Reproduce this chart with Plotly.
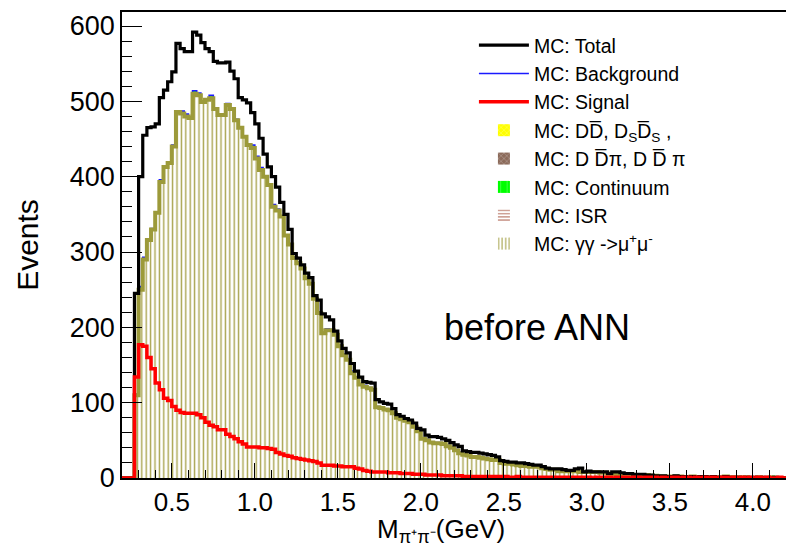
import plotly.graph_objects as go

# Dipion invariant-mass histogram binning (GeV)
x_min = 0.2
bin_width = 0.025
n_bins = 160

# MC: Total (sum of all MC samples)
total_mc = [
    0, 0, 0, 245, 400, 455, 465, 466, 470, 505,
    515, 526, 539, 577, 570, 566, 566, 592, 588, 578,
    570, 566, 553, 551, 551, 552, 540, 530, 505, 502,
    498, 485, 470, 451, 430, 413, 400, 386, 366, 350,
    330, 298, 292, 283, 272, 266, 242, 236, 218, 214,
    210, 195, 182, 172, 166, 152, 142, 134, 128, 127,
    126, 104, 101, 99, 98, 92, 84, 82, 79, 77,
    73, 66, 64, 57, 55, 55, 54, 52, 50, 47,
    44, 42, 36, 35, 34, 34, 33, 32, 31, 30,
    28, 23, 22, 21, 21, 20, 20, 19, 18, 17,
    17, 15, 13, 12, 12, 12, 11, 10, 10, 12,
    13, 8, 9, 8, 8, 8, 8, 6, 8, 8,
    7, 6, 6, 5, 5, 5, 4, 4, 3, 3,
    3, 2, 2, 3, 2, 2, 1, 2, 1, 2,
    2, 1, 2, 1, 1, 2, 1, 1, 1, 0,
    1, 0, 1, 0, 1, 0, 0, 1, 0, 0,
]

# MC: Signal
signal_mc = [
    0, 0, 0, 134, 177, 175, 160, 145, 126, 117,
    106, 103, 95, 90, 87, 86, 86, 86, 84, 80,
    74, 70, 68, 64, 64, 58, 55, 52, 48, 45,
    41, 41, 41, 40, 40, 39, 38, 34, 32, 30,
    29, 27, 26, 25, 24, 23, 22, 20, 17, 17,
    17, 16, 16, 15, 15, 15, 13, 12, 10, 9,
    8, 8, 8, 8, 7, 7, 7, 6, 6, 6,
    5, 5, 5, 4, 4, 4, 4, 3, 3, 3,
    3, 3, 2, 2, 2, 2, 2, 2, 2, 2,
    2, 2, 2, 1, 1, 2, 1, 1, 1, 1,
    1, 1, 1, 1, 1, 1, 1, 1, 1, 1,
    1, 1, 1, 0, 1, 1, 1, 1, 0, 1,
    1, 1, 0, 1, 1, 0, 1, 1, 1, 0,
    1, 0, 1, 1, 0, 1, 1, 0, 1, 0,
    1, 0, 1, 0, 1, 1, 0, 1, 0, 1,
    0, 1, 0, 1, 0, 1, 0, 0, 1, 0,
]

# MC: gamma gamma -> mu+ mu-
gg_mumu = [
    0, 0, 0, 110, 250, 290, 316, 330, 352, 393,
    413, 418, 440, 486, 484, 480, 478, 510, 508, 499,
    502, 504, 490, 482, 482, 495, 490, 475, 465, 453,
    442, 438, 424, 409, 400, 389, 360, 355, 347, 322,
    310, 292, 285, 278, 265, 258, 238, 219, 192, 196,
    196, 190, 175, 163, 157, 139, 133, 124, 121, 119,
    117, 94, 93, 91, 90, 86, 80, 78, 76, 74,
    68, 62, 52, 50, 47, 46, 46, 45, 42, 40,
    37, 33, 31, 30, 28, 28, 27, 26, 25, 24,
    24, 20, 19, 19, 18, 17, 16, 16, 15, 15,
    15, 13, 12, 11, 11, 9, 9, 9, 9, 9,
    8, 8, 8, 8, 8, 7, 7, 5, 5, 5,
    5, 5, 5, 4, 4, 4, 4, 3, 3, 2,
    2, 2, 2, 1, 2, 1, 1, 2, 1, 1,
    1, 1, 1, 1, 1, 2, 1, 1, 1, 0,
    1, 0, 0, 1, 0, 0, 1, 0, 0, 0,
]

# MC: Continuum (stacked on top of gamma gamma)
continuum = [
    0, 0, 0, 1, 4, 3, 1, 1, 1, 3,
    1, 1, 2, 1, 3, 3, 1, 4, 3, 1,
    1, 4, 1, 1, 1, 2, 1, 1, 1, 1,
    1, 4, 3, 3, 1, 1, 3, 2, 1, 1,
    1, 1, 2, 1, 1, 1, 3, 1, 1, 2,
    1, 1, 1, 1, 1, 3, 1, 1, 2, 1,
    1, 1, 1, 1, 1, 1, 1, 2, 1, 1,
    1, 3, 1, 1, 1, 1, 1, 1, 1, 1,
    1, 1, 0, 1, 0, 1, 0, 1, 0, 0,
    0, 0, 0, 0, 0, 0, 0, 0, 0, 0,
    0, 0, 0, 0, 0, 0, 0, 0, 0, 0,
    0, 0, 0, 0, 0, 0, 0, 0, 0, 0,
    0, 0, 0, 0, 0, 0, 0, 0, 0, 0,
    0, 0, 0, 0, 0, 0, 0, 0, 0, 0,
    0, 0, 0, 0, 0, 0, 0, 0, 0, 0,
    0, 0, 0, 0, 0, 0, 0, 0, 0, 0,
]

# Samples with no visible contribution in this mass window
dd_bar = [0] * n_bins
dd_bar_pi = [0] * n_bins
isr = [0] * n_bins

x_ticks = [0.5, 1.0, 1.5, 2.0, 2.5, 3.0, 3.5, 4.0]
y_ticks = [0, 100, 200, 300, 400, 500, 600]

edges = [round(x_min + i * bin_width, 4) for i in range(n_bins + 1)]
centers = [round(x_min + (i + 0.5) * bin_width, 4) for i in range(n_bins)]

# background = all stacked background samples
background = [g + c + a + b + d for g, c, a, b, d in
              zip(gg_mumu, continuum, dd_bar, dd_bar_pi, isr)]
top_of_gg = gg_mumu


def step(values):
    """Histogram outline: bin edges with the last content repeated."""
    return edges, list(values) + [values[-1]]


FONT = "Liberation Sans, Arial, Helvetica, sans-serif"
OLIVE = "#9c9a3a"

fig = go.Figure()

# --- filled stack components (bars) ---
fig.add_trace(go.Bar(
    x=centers, y=gg_mumu, width=bin_width,
    name="MC: \u03b3\u03b3 ->\u03bc<sup>+</sup>\u03bc<sup>-</sup>",
    marker=dict(color=OLIVE, line=dict(width=0),
                pattern=dict(shape="|", fillmode="replace", bgcolor="white",
                             fgcolor="#a8a44e", size=4.4, solidity=0.32)),
    legendrank=8,
))
fig.add_trace(go.Bar(
    x=centers, y=continuum, base=top_of_gg, width=bin_width,
    name="MC: Continuum",
    marker=dict(color="#00ff00", line=dict(width=0),
                pattern=dict(shape="|", fillmode="overlay",
                             fgcolor="white", size=8, solidity=0.08)),
    legendrank=6,
))
fig.add_trace(go.Bar(
    x=centers, y=dd_bar, width=bin_width,
    name="MC: DD\u0305, D<sub>S</sub>D\u0305<sub>S</sub> ,",
    marker=dict(color="#ffff00", line=dict(width=0),
                pattern=dict(shape="x", fillmode="overlay",
                             fgcolor="white", size=5, solidity=0.2)),
    legendrank=4,
))
fig.add_trace(go.Bar(
    x=centers, y=dd_bar_pi, width=bin_width,
    name="MC: D D\u0305\u03c0, D D\u0305 \u03c0",
    marker=dict(color="#8b6a5a", line=dict(width=0),
                pattern=dict(shape="x", fillmode="overlay",
                             fgcolor="white", size=5, solidity=0.2)),
    legendrank=5,
))
fig.add_trace(go.Bar(
    x=centers, y=isr, width=bin_width,
    name="MC: ISR",
    marker=dict(color="#c9968a", line=dict(width=0),
                pattern=dict(shape="-", fillmode="replace", bgcolor="white",
                             size=4, solidity=0.45)),
    legendrank=7,
))

# --- outlines ---
bx, by = step(background)
fig.add_trace(go.Scatter(
    x=bx, y=by, mode="lines", line=dict(color="#1a1aff", width=1.6, shape="hv"),
    name="MC: Background", legendrank=2,
))
gx, gy = step(gg_mumu)
fig.add_trace(go.Scatter(
    x=gx, y=gy, mode="lines", line=dict(color=OLIVE, width=4, shape="hv"),
    showlegend=False, hoverinfo="skip",
))
tx, ty = step(total_mc)
fig.add_trace(go.Scatter(
    x=tx, y=ty, mode="lines", line=dict(color="black", width=3.2, shape="hv"),
    name="MC: Total", legendrank=1,
))
sx, sy = step(signal_mc)
fig.add_trace(go.Scatter(
    x=sx, y=sy, mode="lines", line=dict(color="#ff0000", width=3.5, shape="hv"),
    name="MC: Signal", legendrank=3,
))

fig.add_annotation(
    text="before ANN", xref="paper", yref="paper", x=0.625, y=0.322,
    xanchor="center", yanchor="middle",
    showarrow=False, font=dict(family=FONT, size=36, color="black"),
)

# x-axis title, placed just below the tick labels
fig.add_annotation(
    text="M<sub>\u03c0\u207a\u03c0\u207b</sub>(GeV)", xref="paper", yref="paper",
    x=0.48, y=0, xanchor="center", yanchor="top", yshift=-34,
    showarrow=False, font=dict(family=FONT, size=26, color="black"),
)

fig.update_layout(
    width=786, height=550,
    margin=dict(l=122, r=0, t=12, b=72),
    paper_bgcolor="white", plot_bgcolor="white",
    barmode="overlay", bargap=0,
    font=dict(family=FONT, color="black"),
    showlegend=True,
    legend=dict(
        x=0.53, y=0.97, xanchor="left", yanchor="top",
        bgcolor="rgba(0,0,0,0)", font=dict(family=FONT, size=19.5, color="black"),
        tracegroupgap=0, itemwidth=50, traceorder="normal",
    ),
    xaxis=dict(
        range=[x_min, x_min + n_bins * bin_width],
        tickvals=x_ticks, ticktext=[f"{v:.1f}" for v in x_ticks],
        ticks="inside", ticklen=15, tickwidth=1.3, tickcolor="black",
        minor=dict(dtick=0.1, tick0=0, ticks="inside", ticklen=8,
                   tickwidth=1.3, tickcolor="black"),
        showline=True, linecolor="black", linewidth=1.5, mirror=True,
        showgrid=False, zeroline=False,
        tickfont=dict(family=FONT, size=26, color="black"),
    ),
    yaxis=dict(
        range=[0, 618.6],
        tickvals=y_ticks,
        ticks="inside", ticklen=20, tickwidth=1.3, tickcolor="black",
        minor=dict(dtick=20, tick0=0, ticks="inside", ticklen=10,
                   tickwidth=1.3, tickcolor="black"),
        showline=True, linecolor="black", linewidth=1.5, mirror=False,
        showgrid=False, zeroline=False,
        tickfont=dict(family=FONT, size=27, color="black"),
        title=dict(text="Events", font=dict(family=FONT, size=30, color="black"),
                   standoff=22),
    ),
)

fig.write_html("out.html")
